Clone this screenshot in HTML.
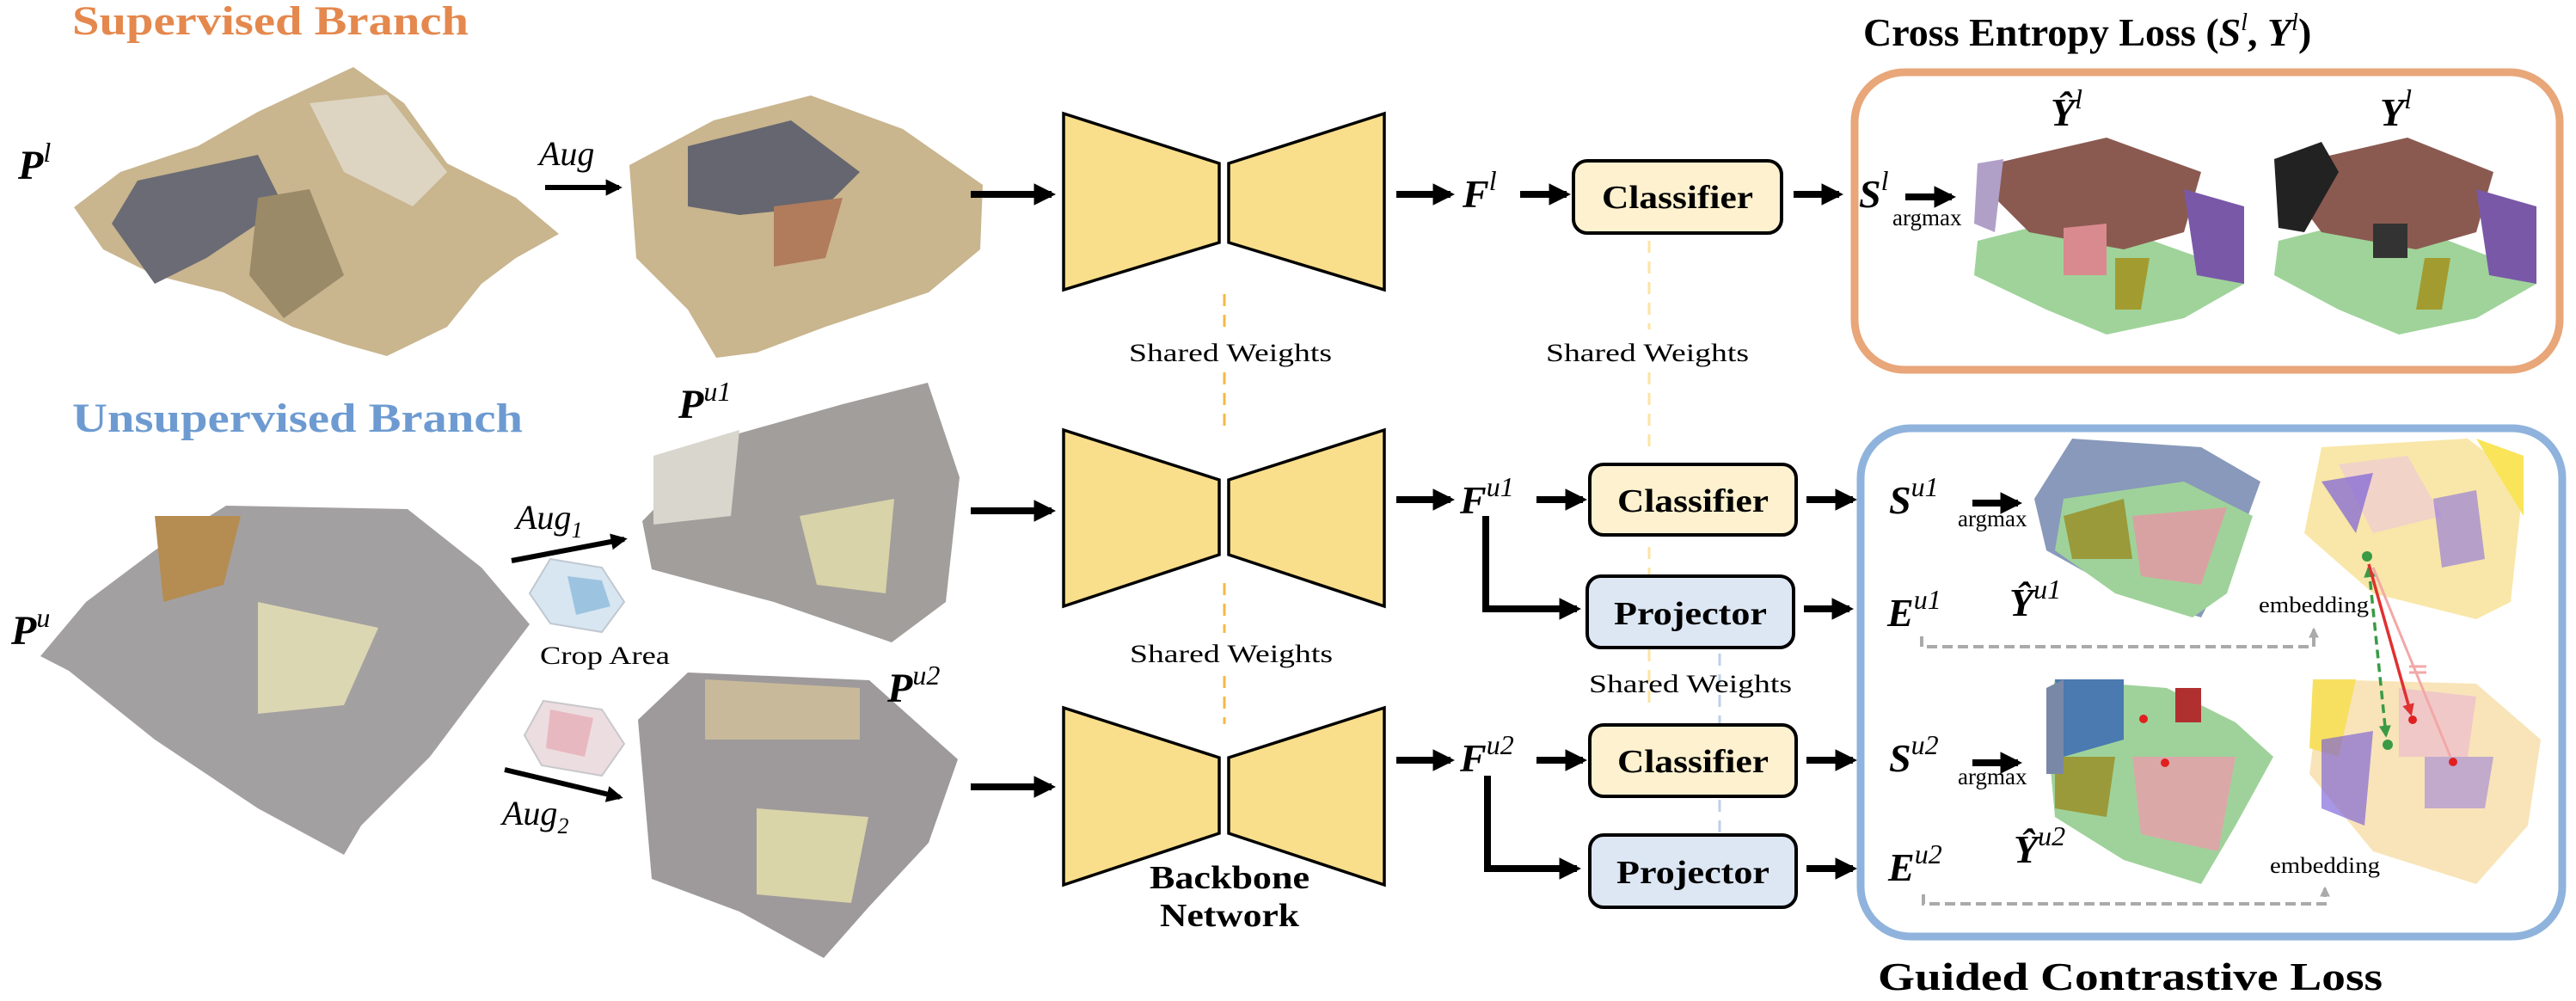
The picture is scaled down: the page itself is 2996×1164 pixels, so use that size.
<!DOCTYPE html>
<html><head><meta charset="utf-8"><style>
html,body{margin:0;padding:0;background:#fff;}
svg{display:block;}
</style></head><body>
<svg width="2996" height="1164" viewBox="0 0 2996 1164" xmlns="http://www.w3.org/2000/svg" font-family="Liberation Serif, serif">
<defs>
<marker id="ah" viewBox="0 0 10 10" refX="8" refY="5" markerWidth="3.2" markerHeight="3.6" orient="auto"><path d="M0,0 L10,5 L0,10 z" fill="#000"/></marker>
<marker id="ahg" viewBox="0 0 10 10" refX="8" refY="5" markerWidth="3" markerHeight="3" orient="auto"><path d="M0,0 L10,5 L0,10 z" fill="#aaa"/></marker>
<marker id="ahgr" viewBox="0 0 10 10" refX="8" refY="5" markerWidth="4" markerHeight="4" orient="auto-start-reverse"><path d="M0,0 L10,5 L0,10 z" fill="#3a9a45"/></marker>
<marker id="ahr" viewBox="0 0 10 10" refX="8" refY="5" markerWidth="4" markerHeight="4" orient="auto"><path d="M0,0 L10,5 L0,10 z" fill="#e03030"/></marker>
</defs>

<text x="84" y="40" font-size="48" font-weight="bold" fill="#e4884e" textLength="461" lengthAdjust="spacingAndGlyphs">Supervised Branch</text>
<text x="84" y="502" font-size="48" font-weight="bold" fill="#6d9bd1" textLength="524" lengthAdjust="spacingAndGlyphs">Unsupervised Branch</text>

<!-- Point cloud Pl -->
<g>
<polygon points="411,78 470,120 520,190 600,230 650,272 600,300 560,330 520,380 450,414 400,400 340,380 260,340 180,320 120,290 86,241 140,200 230,170 300,130" fill="#c9b58e"/>
<polygon points="160,210 300,180 330,240 240,300 180,330 130,260" fill="#6a6b74"/>
<polygon points="300,230 360,220 400,320 330,370 290,320" fill="#9a8a68"/>
<polygon points="360,120 450,110 520,200 480,240 400,200" fill="#ddd5c2"/>
</g>
<!-- Point cloud aug -->
<g>
<polygon points="943,111 1050,150 1143,215 1140,290 1080,340 960,380 880,410 833,416 800,360 740,300 732,192 830,140" fill="#c9b58e"/>
<polygon points="800,170 920,140 1000,200 960,240 860,250 800,240" fill="#65666f"/>
<polygon points="900,240 980,230 960,300 900,310" fill="#b07c5c"/>
</g>
<!-- Pu -->
<g>
<polygon points="263,588 474,592 560,660 616,726 560,800 500,880 420,960 400,994 300,940 180,860 80,780 47,763 100,700 180,640" fill="#a3a0a1"/>
<polygon points="300,700 440,730 400,820 300,830" fill="#dcd7b3"/>
<polygon points="180,600 280,600 260,680 190,700" fill="#b58c52"/>
</g>
<!-- Pu1 -->
<g>
<polygon points="1079,445 1116,555 1100,700 1037,747 900,700 758,662 747,606 842,509 980,470" fill="#a29e9c"/>
<polygon points="760,530 860,500 850,600 760,610" fill="#d9d6cd"/>
<polygon points="930,600 1040,580 1030,690 950,680" fill="#d8d3a8"/>
</g>
<!-- Pu2 -->
<g>
<polygon points="800,782 1011,791 1114,883 1080,980 1011,1054 958,1114 860,1060 758,1022 742,837" fill="#9e9a9b"/>
<polygon points="820,790 1000,800 1000,860 820,860" fill="#c8b99a"/>
<polygon points="880,940 1010,950 990,1050 880,1040" fill="#dad4a9"/>
</g>
<polygon points="640,650 700,660 726,700 700,735 640,725 616,690" fill="#d7e6f1" stroke="#c0c8d0" stroke-width="2"/>
<polygon points="660,670 700,675 710,705 670,715" fill="#9cc4e0"/>
<polygon points="632,815 700,825 726,865 700,902 630,890 610,855" fill="#ecdde0" stroke="#c8c8cc" stroke-width="2"/>
<polygon points="640,825 690,835 680,880 635,870" fill="#e8b8c0"/>

<text x="21" y="208" font-size="48" font-weight="bold" font-style="italic">P<tspan font-size="32" font-weight="normal" dy="-20">l</tspan></text>
<text x="13" y="749" font-size="48" font-weight="bold" font-style="italic">P<tspan font-size="32" font-weight="normal" dy="-20">u</tspan></text>
<text x="789" y="486" font-size="48" font-weight="bold" font-style="italic">P<tspan font-size="32" font-weight="normal" dy="-20">u1</tspan></text>
<text x="1032" y="816" font-size="48" font-weight="bold" font-style="italic">P<tspan font-size="32" font-weight="normal" dy="-20">u2</tspan></text>
<text x="627" y="192" font-size="40" font-style="italic">Aug</text>
<text x="600" y="615" font-size="40" font-style="italic">Aug<tspan font-size="26" dy="10">1</tspan></text>
<text x="584" y="959" font-size="40" font-style="italic">Aug<tspan font-size="26" dy="10">2</tspan></text>
<text x="628" y="772" font-size="30" textLength="151" lengthAdjust="spacingAndGlyphs">Crop Area</text>

<line x1="634" y1="218" x2="720" y2="218" stroke="#000" stroke-width="6" marker-end="url(#ah)"/>
<line x1="595" y1="652" x2="726" y2="627" stroke="#000" stroke-width="6" marker-end="url(#ah)"/>
<line x1="587" y1="895" x2="721" y2="927" stroke="#000" stroke-width="6" marker-end="url(#ah)"/>
<line x1="1129" y1="226" x2="1223" y2="226" stroke="#000" stroke-width="8" marker-end="url(#ah)"/>
<line x1="1129" y1="594" x2="1223" y2="594" stroke="#000" stroke-width="8" marker-end="url(#ah)"/>
<line x1="1129" y1="915" x2="1223" y2="915" stroke="#000" stroke-width="8" marker-end="url(#ah)"/>

<g fill="#f9de8b" stroke="#000" stroke-width="3.5">
<polygon points="1237,132 1418,190 1418,282 1237,337"/>
<polygon points="1610,132 1429,190 1429,282 1610,337"/>
<polygon points="1237,500 1418,558 1418,645 1237,705"/>
<polygon points="1610,500 1429,558 1429,645 1610,705"/>
<polygon points="1237,823 1418,881 1418,969 1237,1029"/>
<polygon points="1610,823 1429,881 1429,969 1610,1029"/>
</g>
<g stroke="#f5b942" stroke-width="3" stroke-dasharray="14,10">
<line x1="1424" y1="342" x2="1424" y2="385"/>
<line x1="1424" y1="433" x2="1424" y2="498"/>
<line x1="1424" y1="678" x2="1424" y2="736"/>
<line x1="1424" y1="786" x2="1424" y2="842"/>
</g>
<text x="1431" y="420" font-size="30" text-anchor="middle" textLength="236" lengthAdjust="spacingAndGlyphs">Shared Weights</text>
<text x="1432" y="770" font-size="30" text-anchor="middle" textLength="236" lengthAdjust="spacingAndGlyphs">Shared Weights</text>
<text x="1430" y="1033" font-size="38" font-weight="bold" text-anchor="middle" textLength="186" lengthAdjust="spacingAndGlyphs">Backbone</text>
<text x="1430" y="1077" font-size="38" font-weight="bold" text-anchor="middle" textLength="162" lengthAdjust="spacingAndGlyphs">Network</text>

<line x1="1624" y1="226" x2="1687" y2="226" stroke="#000" stroke-width="8" marker-end="url(#ah)"/>
<line x1="1624" y1="581" x2="1687" y2="581" stroke="#000" stroke-width="8" marker-end="url(#ah)"/>
<line x1="1624" y1="884" x2="1687" y2="884" stroke="#000" stroke-width="8" marker-end="url(#ah)"/>
<text x="1701" y="241" font-size="46" font-weight="bold" font-style="italic">F<tspan font-size="32" font-weight="normal" dy="-20">l</tspan></text>
<text x="1698" y="597" font-size="46" font-weight="bold" font-style="italic">F<tspan font-size="32" font-weight="normal" dy="-20">u1</tspan></text>
<text x="1698" y="897" font-size="46" font-weight="bold" font-style="italic">F<tspan font-size="32" font-weight="normal" dy="-20">u2</tspan></text>
<line x1="1768" y1="226" x2="1822" y2="226" stroke="#000" stroke-width="8" marker-end="url(#ah)"/>
<line x1="1787" y1="581" x2="1841" y2="581" stroke="#000" stroke-width="8" marker-end="url(#ah)"/>
<line x1="1787" y1="884" x2="1841" y2="884" stroke="#000" stroke-width="8" marker-end="url(#ah)"/>
<polyline points="1728,600 1728,708 1834,708" fill="none" stroke="#000" stroke-width="8" marker-end="url(#ah)"/>
<polyline points="1730,902 1730,1010 1834,1010" fill="none" stroke="#000" stroke-width="8" marker-end="url(#ah)"/>

<g stroke-width="3" stroke-dasharray="14,10">
<line x1="1918" y1="280" x2="1918" y2="383" stroke="#fde3a0"/>
<line x1="1918" y1="433" x2="1918" y2="527" stroke="#fde3a0"/>
<line x1="1918" y1="636" x2="1918" y2="668" stroke="#fde3a0"/>
<line x1="1918" y1="755" x2="1918" y2="826" stroke="#fde3a0"/>
<line x1="2000" y1="760" x2="2000" y2="841" stroke="#bcd0e8"/>
<line x1="2000" y1="930" x2="2000" y2="968" stroke="#bcd0e8"/>
</g>
<text x="1916" y="420" font-size="30" text-anchor="middle" textLength="236" lengthAdjust="spacingAndGlyphs">Shared Weights</text>
<text x="1966" y="805" font-size="30" text-anchor="middle" textLength="236" lengthAdjust="spacingAndGlyphs">Shared Weights</text>

<g stroke="#000" stroke-width="4">
<rect x="1830" y="187" width="242" height="84" rx="16" fill="#fdf1cf"/>
<rect x="1849" y="540" width="240" height="82" rx="16" fill="#fdf1cf"/>
<rect x="1846" y="670" width="240" height="83" rx="16" fill="#dde7f4"/>
<rect x="1849" y="843" width="240" height="83" rx="16" fill="#fdf1cf"/>
<rect x="1849" y="971" width="240" height="84" rx="16" fill="#dde7f4"/>
</g>
<g font-size="38" font-weight="bold" text-anchor="middle">
<text x="1951" y="242" textLength="176" lengthAdjust="spacingAndGlyphs">Classifier</text>
<text x="1969" y="595" textLength="176" lengthAdjust="spacingAndGlyphs">Classifier</text>
<text x="1966" y="726" textLength="178" lengthAdjust="spacingAndGlyphs">Projector</text>
<text x="1969" y="898" textLength="176" lengthAdjust="spacingAndGlyphs">Classifier</text>
<text x="1969" y="1027" textLength="178" lengthAdjust="spacingAndGlyphs">Projector</text>
</g>
<line x1="2086" y1="226" x2="2139" y2="226" stroke="#000" stroke-width="8" marker-end="url(#ah)"/>
<line x1="2101" y1="581" x2="2155" y2="581" stroke="#000" stroke-width="8" marker-end="url(#ah)"/>
<line x1="2098" y1="708" x2="2151" y2="708" stroke="#000" stroke-width="8" marker-end="url(#ah)"/>
<line x1="2101" y1="884" x2="2155" y2="884" stroke="#000" stroke-width="8" marker-end="url(#ah)"/>
<line x1="2101" y1="1010" x2="2155" y2="1010" stroke="#000" stroke-width="8" marker-end="url(#ah)"/>

<rect x="2157" y="84" width="820" height="346" rx="58" fill="none" stroke="#e8a679" stroke-width="9"/>
<rect x="2164" y="498" width="816" height="591" rx="58" fill="none" stroke="#8fb3dc" stroke-width="9"/>
<text x="2167" y="53" font-size="46" font-weight="bold">Cross Entropy Loss (<tspan font-style="italic">S</tspan><tspan font-size="28" font-style="italic" font-weight="normal" dy="-18">l</tspan><tspan dy="18">, </tspan><tspan font-style="italic">Y</tspan><tspan font-size="28" font-style="italic" font-weight="normal" dy="-18">l</tspan><tspan dy="18">)</tspan></text>
<text x="2184" y="1151" font-size="46" font-weight="bold" textLength="587" lengthAdjust="spacingAndGlyphs">Guided Contrastive Loss</text>

<text x="2162" y="241" font-size="46" font-weight="bold" font-style="italic">S<tspan font-size="32" font-weight="normal" dy="-20">l</tspan></text>
<text x="2201" y="262" font-size="27">argmax</text>
<line x1="2216" y1="229" x2="2270" y2="229" stroke="#000" stroke-width="8" marker-end="url(#ah)"/>
<text x="2197" y="597" font-size="46" font-weight="bold" font-style="italic">S<tspan font-size="32" font-weight="normal" dy="-20">u1</tspan></text>
<text x="2277" y="612" font-size="27">argmax</text>
<line x1="2294" y1="585" x2="2347" y2="585" stroke="#000" stroke-width="8" marker-end="url(#ah)"/>
<text x="2197" y="897" font-size="46" font-weight="bold" font-style="italic">S<tspan font-size="32" font-weight="normal" dy="-20">u2</tspan></text>
<text x="2277" y="912" font-size="27">argmax</text>
<line x1="2294" y1="887" x2="2347" y2="887" stroke="#000" stroke-width="8" marker-end="url(#ah)"/>
<text x="2195" y="728" font-size="46" font-weight="bold" font-style="italic">E<tspan font-size="32" font-weight="normal" dy="-20">u1</tspan></text>
<text x="2196" y="1024" font-size="46" font-weight="bold" font-style="italic">E<tspan font-size="32" font-weight="normal" dy="-20">u2</tspan></text>
<text x="2337" y="716" font-size="46" font-weight="bold" font-style="italic">Ŷ<tspan font-size="32" font-weight="normal" dy="-20">u1</tspan></text>
<text x="2342" y="1003" font-size="46" font-weight="bold" font-style="italic">Ŷ<tspan font-size="32" font-weight="normal" dy="-20">u2</tspan></text>
<text x="2385" y="146" font-size="46" font-weight="bold" font-style="italic">Ŷ<tspan font-size="32" font-weight="normal" dy="-20">l</tspan></text>
<text x="2768" y="146" font-size="46" font-weight="bold" font-style="italic">Y<tspan font-size="32" font-weight="normal" dy="-20">l</tspan></text>

<g>
<polygon points="2300,280 2420,250 2560,300 2610,330 2540,370 2450,389 2380,360 2296,320" fill="#9fd39a"/>
<polygon points="2320,190 2450,160 2560,200 2540,270 2470,290 2360,270 2320,230" fill="#8a5a50"/>
<polygon points="2540,220 2610,240 2610,330 2555,320" fill="#7a58a8"/>
<polygon points="2400,265 2450,260 2450,320 2400,320" fill="#d98a8e"/>
<polygon points="2460,300 2500,300 2490,360 2460,360" fill="#a29c30"/>
<polygon points="2300,190 2330,185 2320,270 2296,260" fill="#b0a0c8"/>
</g>
<g>
<polygon points="2650,280 2770,250 2900,300 2950,330 2880,370 2790,389 2720,360 2645,320" fill="#9fd39a"/>
<polygon points="2670,190 2800,160 2900,200 2880,270 2810,290 2700,270 2670,230" fill="#8a5a50"/>
<polygon points="2645,185 2700,165 2720,200 2680,270 2650,265" fill="#222"/>
<polygon points="2880,220 2950,240 2950,330 2895,320" fill="#7a58a8"/>
<polygon points="2760,260 2800,260 2800,300 2760,300" fill="#333"/>
<polygon points="2820,300 2850,300 2840,360 2810,360" fill="#a29c30"/>
</g>
<g>
<polygon points="2410,510 2560,520 2629,560 2600,640 2560,718 2470,690 2380,640 2366,580" fill="#8899bb"/>
<polygon points="2400,580 2540,560 2620,600 2590,690 2550,718 2460,690 2390,640" fill="#9fd29a"/>
<polygon points="2480,600 2590,590 2560,680 2490,670" fill="#d9a2a2"/>
<polygon points="2400,600 2470,580 2480,650 2410,650" fill="#9a9a3a"/>
</g>
<g>
<polygon points="2700,520 2870,510 2935,560 2920,700 2880,720 2760,690 2680,620" fill="#f8e7a8"/>
<polygon points="2720,540 2800,530 2840,600 2760,620" fill="#f1d3c8"/>
<polygon points="2700,560 2760,550 2740,620" fill="#7a60d8" opacity="0.7"/>
<polygon points="2830,580 2880,570 2890,650 2840,660" fill="#8a70e0" opacity="0.6"/>
<polygon points="2880,510 2935,530 2935,600" fill="#f9e45a"/>
</g>
<g>
<polygon points="2390,790 2520,800 2600,840 2644,880 2600,960 2560,1028 2470,1000 2390,950 2380,840" fill="#9fd29a"/>
<polygon points="2390,790 2470,790 2470,860 2400,880" fill="#4a7ab0"/>
<polygon points="2530,800 2560,800 2560,840 2530,840" fill="#b03030"/>
<polygon points="2480,880 2600,880 2580,990 2490,970" fill="#dba8a8"/>
<polygon points="2390,880 2460,880 2450,950 2390,940" fill="#9a9a3a"/>
<polygon points="2380,800 2400,790 2400,900 2380,900" fill="#7a88a8"/>
</g>
<g>
<polygon points="2700,790 2880,795 2955,860 2940,960 2880,1028 2760,990 2686,900" fill="#f8e4b8"/>
<polygon points="2690,790 2740,790 2720,880 2686,870" fill="#f7e060"/>
<polygon points="2790,800 2880,810 2870,880 2790,880" fill="#f0c8c8"/>
<polygon points="2700,860 2760,850 2750,960 2700,940" fill="#7a60d8" opacity="0.65"/>
<polygon points="2820,880 2900,880 2890,940 2820,940" fill="#8a70e0" opacity="0.5"/>
</g>
<circle cx="2493" cy="836" r="5" fill="#e02020"/>
<circle cx="2518" cy="887" r="5" fill="#e02020"/>
<circle cx="2806" cy="837" r="5" fill="#e02020"/>
<circle cx="2853" cy="886" r="5" fill="#e02020"/>
<circle cx="2777" cy="866" r="6" fill="#3a9a45"/>
<circle cx="2753" cy="647" r="6" fill="#3a9a45"/>

<line x1="2755" y1="660" x2="2775" y2="855" stroke="#3a9a45" stroke-width="3.5" stroke-dasharray="10,6" marker-start="url(#ahgr)" marker-end="url(#ahgr)"/>
<line x1="2760" y1="660" x2="2850" y2="880" stroke="#f2a8a8" stroke-width="3"/>
<line x1="2755" y1="656" x2="2804" y2="830" stroke="#e03030" stroke-width="3.5" marker-end="url(#ahr)"/>
<line x1="2802" y1="775" x2="2822" y2="775" stroke="#f2a8a8" stroke-width="3"/>
<line x1="2802" y1="782" x2="2822" y2="782" stroke="#f2a8a8" stroke-width="3"/>

<text x="2627" y="712" font-size="26" textLength="128" lengthAdjust="spacingAndGlyphs">embedding</text>
<text x="2640" y="1015" font-size="26" textLength="128" lengthAdjust="spacingAndGlyphs">embedding</text>
<polyline points="2235,740 2235,752 2691,752 2691,732" fill="none" stroke="#aaa" stroke-width="4" stroke-dasharray="12,6" marker-end="url(#ahg)"/>
<polyline points="2237,1040 2237,1051 2704,1051 2704,1033" fill="none" stroke="#aaa" stroke-width="4" stroke-dasharray="12,6" marker-end="url(#ahg)"/>
</svg>
</body></html>
